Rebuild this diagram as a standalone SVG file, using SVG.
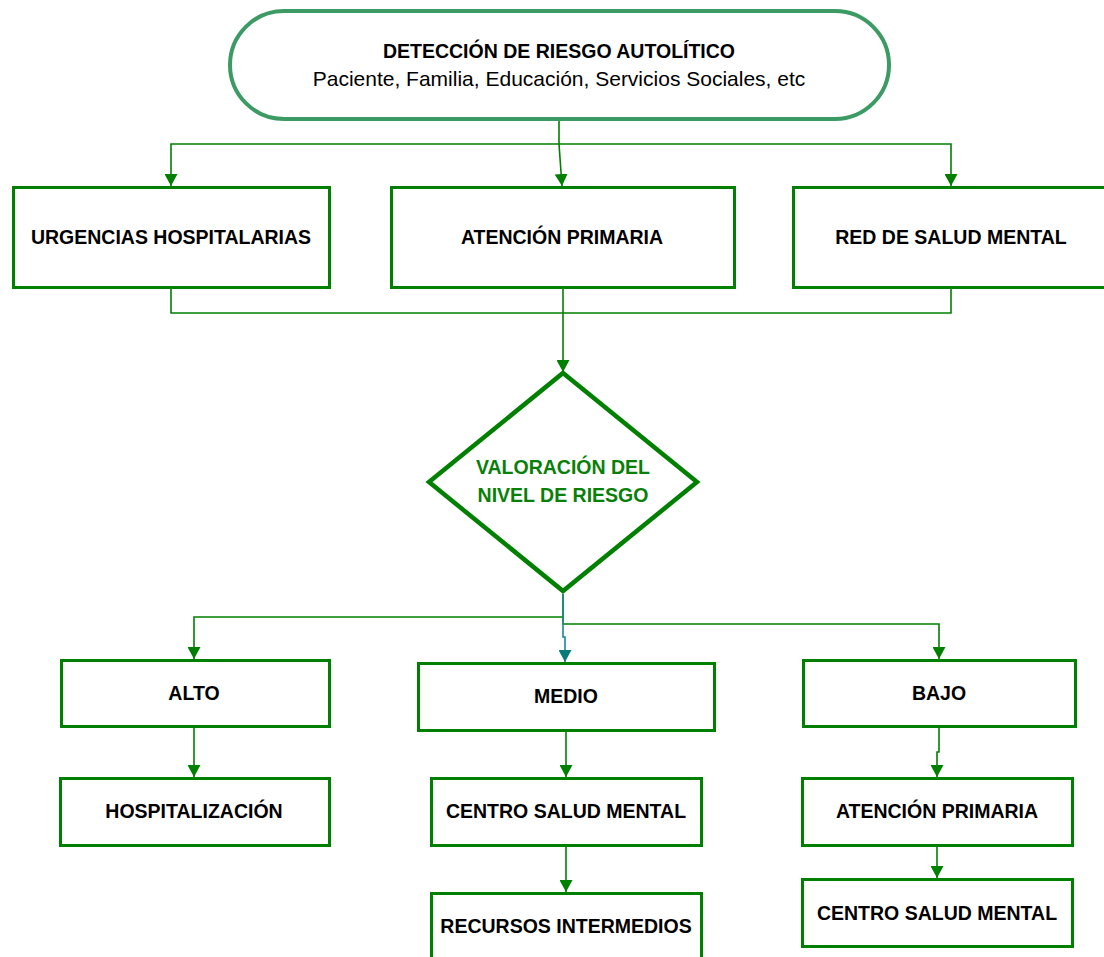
<svg xmlns="http://www.w3.org/2000/svg" width="1104" height="957" viewBox="0 0 1104 957">
<defs>
<style>
.box{fill:#fff;stroke:#008000;stroke-width:3}
.pill{fill:#fff;stroke:#3c9a64;stroke-width:4}
.dia{fill:#fff;stroke:#008000;stroke-width:4.5;stroke-linejoin:miter}
.lbl{font-family:"Liberation Sans",Arial,sans-serif;font-weight:bold;font-size:19.5px;fill:#000;text-anchor:middle}
.sub{font-family:"Liberation Sans",Arial,sans-serif;font-size:21px;fill:#000;text-anchor:middle}
.dlbl{font-family:"Liberation Sans",Arial,sans-serif;font-weight:bold;font-size:19.5px;fill:#088008;text-anchor:middle}
.con{fill:none;stroke:#008000;stroke-width:1.6}
.teal{fill:none;stroke:#1a8a8a;stroke-width:1.6}
</style>
<marker id="ah" viewBox="0 0 12 13" refX="12" refY="6.5" markerWidth="12" markerHeight="13" markerUnits="userSpaceOnUse" orient="auto">
<path d="M0,0 L12,6.5 L0,13 z" fill="#008000"/>
</marker>
<marker id="aht" viewBox="0 0 12 13" refX="12" refY="6.5" markerWidth="12" markerHeight="13" markerUnits="userSpaceOnUse" orient="auto">
<path d="M0,0 L12,6.5 L0,13 z" fill="#0a7a7a"/>
</marker>
</defs>

<g id="connectors">
<path class="con" d="M559,121 L559,144 L562,186" marker-end="url(#ah)"/>
<path class="con" d="M559,144 L171,144 L171,186" marker-end="url(#ah)"/>
<path class="con" d="M559,144 L951,144 L951,186" marker-end="url(#ah)"/>
<path class="con" d="M171,288 L171,313 L951,313 L951,288"/>
<path class="con" d="M563,288 L563,372" marker-end="url(#ah)"/>
<path class="con" d="M563,594 L563,617 L194,617 L194,659" marker-end="url(#ah)"/>
<path class="con" d="M563,617 L563,624 L939,624 L939,659" marker-end="url(#ah)"/>
<path class="teal" d="M563,594 L563,637 L565,637 L565,662" marker-end="url(#aht)"/>
<path class="con" d="M194,727 L194,777" marker-end="url(#ah)"/>
<path class="con" d="M566,731 L566,777" marker-end="url(#ah)"/>
<path class="con" d="M939,727 L939,752 L937,752 L937,777" marker-end="url(#ah)"/>
<path class="con" d="M937,845 L937,878" marker-end="url(#ah)"/>
<path class="con" d="M566,845 L566,892" marker-end="url(#ah)"/>
</g>

<g id="n-deteccion">
<rect class="pill" x="230" y="11" width="659" height="108" rx="54" ry="54"/>
<text class="lbl" x="559" y="58">DETECCIÓN DE RIESGO AUTOLÍTICO</text>
<text class="sub" x="559" y="86">Paciente, Familia, Educación, Servicios Sociales, etc</text>
</g>

<g id="n-urgencias">
<rect class="box" x="13.5" y="187.5" width="316" height="100"/>
<text class="lbl" x="171" y="244">URGENCIAS HOSPITALARIAS</text>
</g>
<g id="n-atencion1">
<rect class="box" x="391.5" y="187.5" width="343" height="100"/>
<text class="lbl" x="562" y="244">ATENCIÓN PRIMARIA</text>
</g>
<g id="n-red">
<rect class="box" x="793.5" y="187.5" width="320" height="100"/>
<text class="lbl" x="951" y="244">RED DE SALUD MENTAL</text>
</g>

<g id="n-valoracion">
<polygon class="dia" points="563,373 697,482 563,591 429,482"/>
<text class="dlbl" x="563" y="474">VALORACIÓN DEL</text>
<text class="dlbl" x="563" y="502">NIVEL DE RIESGO</text>
</g>

<g id="n-alto">
<rect class="box" x="61.5" y="660.5" width="268" height="66"/>
<text class="lbl" x="194" y="700">ALTO</text>
</g>
<g id="n-medio">
<rect class="box" x="418.5" y="663.5" width="296" height="67"/>
<text class="lbl" x="566" y="703">MEDIO</text>
</g>
<g id="n-bajo">
<rect class="box" x="803.5" y="660.5" width="272" height="66"/>
<text class="lbl" x="939" y="700">BAJO</text>
</g>

<g id="n-hospitalizacion">
<rect class="box" x="60.5" y="778.5" width="269" height="67"/>
<text class="lbl" x="194" y="818">HOSPITALIZACIÓN</text>
</g>
<g id="n-csm1">
<rect class="box" x="431.5" y="778.5" width="270" height="67"/>
<text class="lbl" x="566" y="818">CENTRO SALUD MENTAL</text>
</g>
<g id="n-recursos">
<rect class="box" x="431.5" y="893.5" width="270" height="80"/>
<text class="lbl" x="566" y="933">RECURSOS INTERMEDIOS</text>
</g>
<g id="n-atencion2">
<rect class="box" x="802.5" y="778.5" width="270" height="67"/>
<text class="lbl" x="937" y="818">ATENCIÓN PRIMARIA</text>
</g>
<g id="n-csm2">
<rect class="box" x="802.5" y="879.5" width="270" height="67"/>
<text class="lbl" x="937" y="920">CENTRO SALUD MENTAL</text>
</g>
</svg>
